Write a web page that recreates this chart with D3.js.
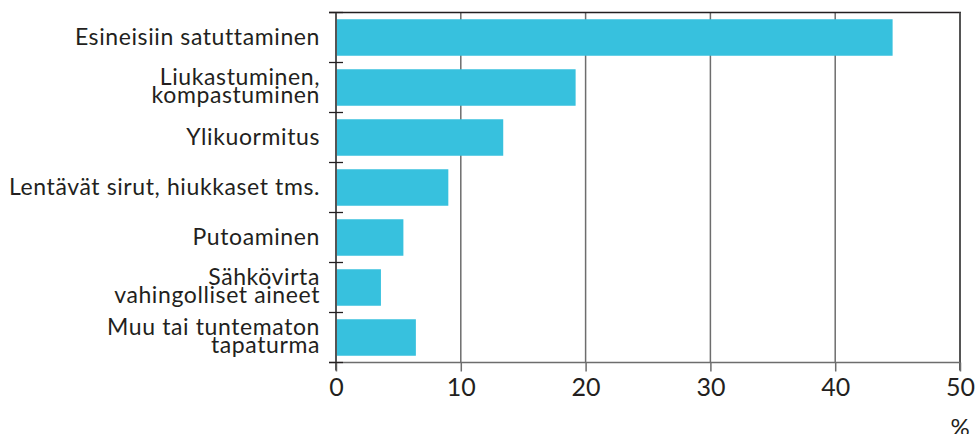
<!DOCTYPE html>
<html><head><meta charset="utf-8">
<script src="https://cdn.jsdelivr.net/npm/d3@7"></script>
<style>body{margin:0;background:#fff}svg{display:block}text{font-family:Lato,"Open Sans",sans-serif;fill:#231f20}</style>
</head><body><svg id="c" width="977" height="434"></svg>
<script>
const categories = [
  ["Esineisiin satuttaminen"],
  ["Liukastuminen,", "kompastuminen"],
  ["Ylikuormitus"],
  ["Lentävät sirut, hiukkaset tms."],
  ["Putoaminen"],
  ["Sähkövirta", "vahingolliset aineet"],
  ["Muu tai tuntematon", "tapaturma"]
];
const values = [44.6, 19.2, 13.4, 9.0, 5.4, 3.6, 6.4];
const xTicks = [0, 10, 20, 30, 40, 50];
const unitLabel = "%";

const svg = d3.select("#c");
const L = 336, R = 960, T = 12.5, B = 362.5;
const x = d3.scaleLinear().domain([0, 50]).range([L, R]);
const y = d3.scaleBand().domain(d3.range(categories.length)).range([T, B]).paddingInner(0.27).paddingOuter(0.135);
const step = y.step();

// gridlines
svg.append("g").selectAll("line").data(xTicks.filter(d => d > 0 && d < 50)).join("line")
  .attr("x1", d => x(d)).attr("x2", d => x(d)).attr("y1", T).attr("y2", B)
  .attr("stroke", "#6d6d6d").attr("stroke-width", 1.5);

// bars
svg.append("g").selectAll("rect").data(values).join("rect")
  .attr("x", x(0)).attr("y", (d, i) => y(i)).attr("width", d => x(d) - x(0)).attr("height", y.bandwidth())
  .attr("fill", "#37c1de");

// top border
svg.append("line").attr("x1", 329).attr("x2", R + 1).attr("y1", T).attr("y2", T).attr("stroke", "#231f20").attr("stroke-width", 1.6);
// right border
svg.append("line").attr("x1", R).attr("x2", R).attr("y1", T).attr("y2", B + 8).attr("stroke", "#555").attr("stroke-width", 2);

// bottom axis
const xAxis = svg.append("g").attr("transform", `translate(0,${B})`)
  .call(d3.axisBottom(x).tickValues(xTicks).tickSize(9).tickPadding(7).tickFormat(d3.format("d")));
xAxis.select(".domain").remove();
xAxis.append("line").attr("x1", 329).attr("x2", R).attr("stroke", "#6d6d6d").attr("stroke-width", 1.5);
xAxis.selectAll(".tick line").attr("stroke", "#6d6d6d").attr("stroke-width", 1.5);
xAxis.selectAll(".tick text").attr("font-size", 25).attr("fill", "#231f20").attr("font-family", "Lato, sans-serif");
svg.append("text").attr("x", x(50)).attr("y", 436).attr("text-anchor", "middle").attr("font-size", 24).text(unitLabel);

// left axis
svg.append("line").attr("x1", L).attr("x2", L).attr("y1", T).attr("y2", B + 8).attr("stroke", "#555").attr("stroke-width", 2);
svg.append("g").selectAll("line").data(d3.range(categories.length + 1)).join("line")
  .attr("x1", 329).attr("x2", 343).attr("y1", i => T + i * step).attr("y2", i => T + i * step)
  .attr("stroke", "#231f20").attr("stroke-width", 1.3);

// category labels
const lab = svg.append("g").selectAll("text").data(categories).join("text")
  .attr("text-anchor", "end").attr("font-size", 23).attr("letter-spacing", 0.6)
  .attr("transform", (d, i) => `translate(320,${y(i) + y.bandwidth() / 2})`);
lab.each(function(lines) {
  const t = d3.select(this);
  const lh = 18.5;
  const off = lines.length === 1 ? 7 : -3;
  lines.forEach((s, k) => t.append("tspan").attr("x", 0).attr("y", off + k * lh).text(s));
});
</script></body></html>
